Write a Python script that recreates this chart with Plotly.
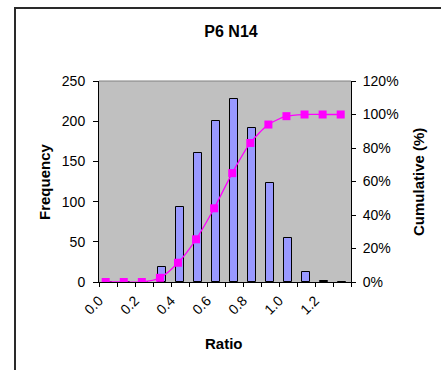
import plotly.graph_objects as go

# Histogram of ratio values (bins of width 0.1) with cumulative percentage
bin_starts = [0.0, 0.1, 0.2, 0.3, 0.4, 0.5, 0.6, 0.7, 0.8, 0.9, 1.0, 1.1, 1.2, 1.3]
frequency = [0, 0, 0, 19, 93, 161, 200, 228, 192, 123, 55, 12, 1, 0]
cumulative_pct = [0, 0, 0, 2.5, 11.5, 25.5, 44, 65, 83, 94, 99, 100, 100, 100]

tick_edges = [0.0, 0.1, 0.2, 0.3, 0.4, 0.5, 0.6, 0.7, 0.8, 0.9, 1.0, 1.1, 1.2, 1.3, 1.4]
tick_labels = ["0.0", "0.2", "0.4", "0.6", "0.8", "1.0", "1.2"]
freq_ticks = [0, 50, 100, 150, 200, 250]
pct_ticks = [0, 20, 40, 60, 80, 100, 120]
pct_labels = ["0%", "20%", "40%", "60%", "80%", "100%", "120%"]

FONT = "Liberation Sans, Arial, sans-serif"
W, H = 441, 370
L, R, T, B = 99, 351, 81, 282  # plot area in pixels

# every other bin edge carries a label
label_map = {v: t for v, t in zip([0.0, 0.2, 0.4, 0.6, 0.8, 1.0, 1.2], tick_labels)}
ticktext = [label_map.get(round(v, 1), "") for v in tick_edges]

fig = go.Figure()

fig.add_trace(go.Bar(
    x=bin_starts, y=frequency,
    width=0.044, offset=0.028,
    marker=dict(color="#9999FF", line=dict(color="black", width=1)),
    xaxis="x", yaxis="y", showlegend=False,
))

fig.add_trace(go.Scatter(
    x=bin_starts, y=cumulative_pct,
    mode="lines+markers",
    line=dict(color="#FF00FF", width=1.3, shape="spline", smoothing=0.7),
    marker=dict(symbol="square", size=8, color="#FF00FF"),
    xaxis="x2", yaxis="y2", showlegend=False,
))

tickfont = dict(family=FONT, size=14, color="black")
title_font = dict(family=FONT, size=15, color="black")

def px_to_paper_x(px):
    return (px - L) / (R - L)

def px_to_paper_y(py):
    return (B - py) / (B - T)

fig.update_layout(
    width=W, height=H,
    margin=dict(l=L, r=W - R, t=T, b=H - B, pad=0),
    paper_bgcolor="white",
    plot_bgcolor="#C0C0C0",
    bargap=0,
    title=dict(
        text="<b>P6 N14</b>",
        font=dict(family=FONT, size=16, color="black"),
        x=231 / W, xanchor="center", xref="container",
        y=1 - 31 / H, yanchor="middle", yref="container",
    ),
    xaxis=dict(
        range=[0, 1.4], tickmode="array", tickvals=tick_edges, ticktext=ticktext,
        ticks="outside", ticklen=4, tickcolor="black", tickwidth=1,
        tickangle=-45, tickfont=tickfont,
        showline=True, linecolor="black", linewidth=1,
        showgrid=False, zeroline=False, fixedrange=True,
    ),
    xaxis2=dict(
        range=[-0.037, 1.357], overlaying="x", anchor="y2", visible=False,
    ),
    xaxis3=dict(
        range=[0, 1.4], overlaying="x", anchor="y", tickmode="array",
        tickvals=tick_edges, ticks="inside", ticklen=3, tickcolor="black",
        showticklabels=False, showline=False, showgrid=False, zeroline=False,
    ),
    yaxis=dict(
        range=[0, 250], tickmode="array", tickvals=freq_ticks,
        ticks="outside", ticklen=5, tickcolor="black", tickwidth=1,
        tickfont=tickfont, ticklabelstandoff=5,
        showline=True, linecolor="black", linewidth=1,
        showgrid=False, zeroline=False,
    ),
    yaxis2=dict(
        range=[0, 120], tickmode="array", tickvals=pct_ticks, ticktext=pct_labels,
        overlaying="y", side="right", anchor="x",
        ticks="outside", ticklen=4, tickcolor="black", tickwidth=1,
        tickfont=tickfont, ticklabelstandoff=4,
        showline=True, linecolor="black", linewidth=1,
        showgrid=False, zeroline=False,
    ),
    yaxis3=dict(
        range=[0, 250], tickmode="array", tickvals=freq_ticks, overlaying="y",
        side="left", anchor="x", ticks="inside", ticklen=3, tickcolor="black",
        showticklabels=False, showline=False, showgrid=False, zeroline=False,
    ),
    yaxis4=dict(
        range=[0, 120], tickmode="array", tickvals=pct_ticks, overlaying="y",
        side="right", anchor="x", ticks="inside", ticklen=3, tickcolor="black",
        showticklabels=False, showline=False, showgrid=False, zeroline=False,
    ),
    annotations=[
        dict(text="<b>Frequency</b>", textangle=-90, font=title_font,
             xref="paper", yref="paper", x=px_to_paper_x(44), y=px_to_paper_y(182),
             xanchor="center", yanchor="middle", showarrow=False),
        dict(text="<b>Cumulative (%)</b>", textangle=-90, font=title_font,
             xref="paper", yref="paper", x=px_to_paper_x(418), y=px_to_paper_y(182),
             xanchor="center", yanchor="middle", showarrow=False),
        dict(text="<b>Ratio</b>", font=title_font,
             xref="paper", yref="paper", x=px_to_paper_x(224), y=px_to_paper_y(343),
             xanchor="center", yanchor="middle", showarrow=False),
    ],
    shapes=[
        # grey top edge of the plot area
        dict(type="line", xref="paper", yref="paper", x0=0, x1=1, y0=1, y1=1,
             line=dict(color="#808080", width=1)),
        # chart frame
        dict(type="rect", xref="paper", yref="paper",
             x0=px_to_paper_x(15), y0=px_to_paper_y(8),
             x1=px_to_paper_x(460), y1=px_to_paper_y(400),
             line=dict(color="#2a2a2a", width=2), fillcolor="rgba(0,0,0,0)",
             layer="above"),
    ],
)

fig.write_html("out.html")
